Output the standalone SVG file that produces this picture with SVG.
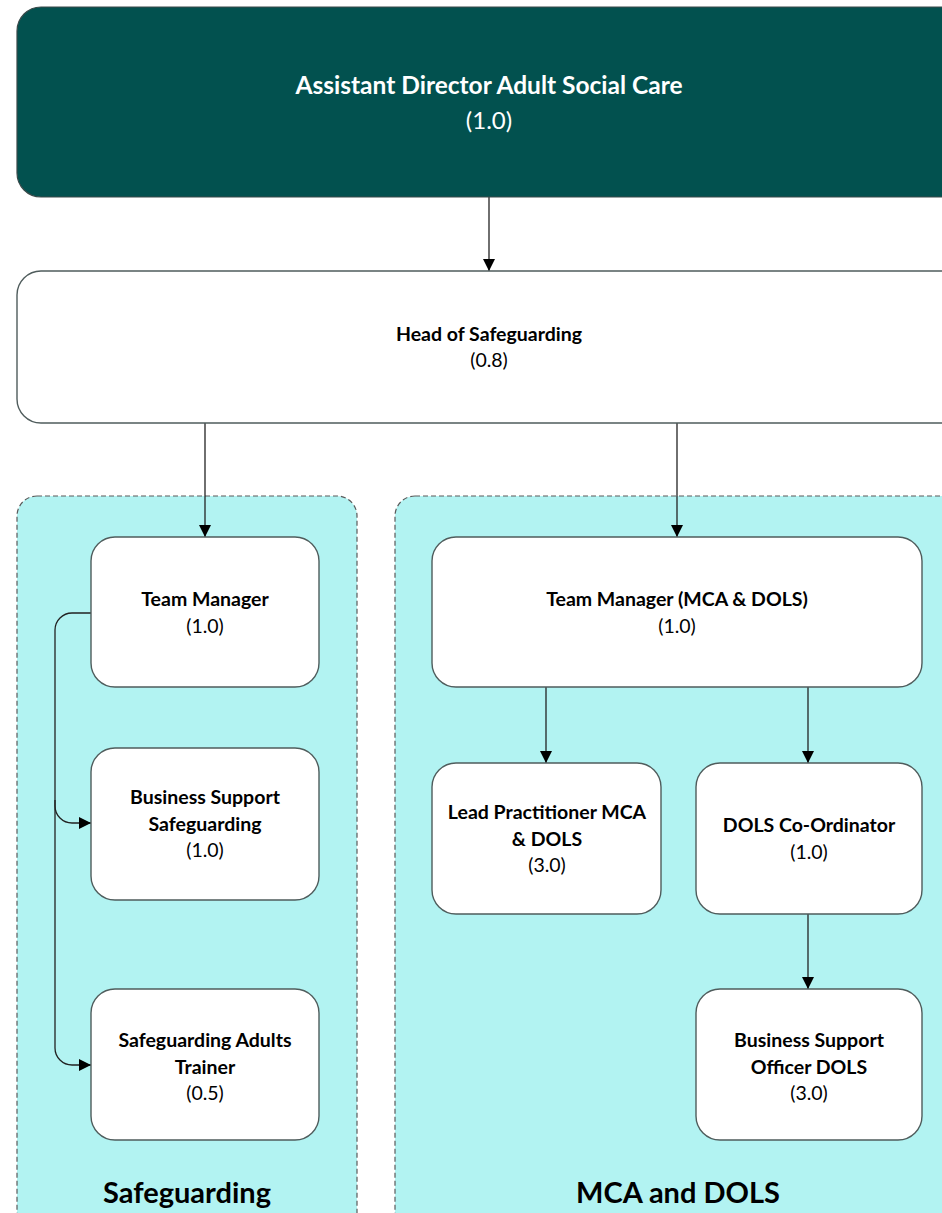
<svg xmlns="http://www.w3.org/2000/svg" width="942" height="1213" viewBox="0 0 942 1213">
<defs>
<marker id="ah" markerWidth="12" markerHeight="12" viewBox="0 0 12 12" refX="12" refY="6" orient="auto" markerUnits="userSpaceOnUse">
<path d="M0,0 L12,6 L0,12 Z" fill="#000"/>
</marker>
<style>
.box{fill:#ffffff;stroke:#4f5c5c;stroke-width:1.4}
.panel{fill:#b2f3f2;stroke:#5a5a5a;stroke-width:1.2;stroke-dasharray:5 3}
.t{font-family:"Lato","Liberation Sans",sans-serif;font-size:19.5px;fill:#000;text-anchor:middle}
.b{font-weight:bold}
.w{fill:#ffffff}
.big{font-size:29px;font-weight:bold}
.con{fill:none;stroke:#222;stroke-width:1.3}
</style>
</defs>
<rect width="942" height="1213" fill="#ffffff"/>
<g id="panel-safeguarding">
<rect class="panel" x="17" y="496" width="340" height="740" rx="20"/>
<text class="t big" x="187" y="1203">Safeguarding</text>
</g>
<g id="panel-mca">
<rect class="panel" x="395" y="496" width="580" height="740" rx="20"/>
<text class="t big" x="678" y="1203">MCA and DOLS</text>
</g>
<g id="connectors">
<path class="con" d="M489,197 V271" marker-end="url(#ah)"/>
<path class="con" d="M205,423 V537" marker-end="url(#ah)"/>
<path class="con" d="M677,423 V537" marker-end="url(#ah)"/>
<path class="con" d="M91,613 H72 A17,17 0 0 0 55,630 V806 A17,17 0 0 0 72,823 H91" marker-end="url(#ah)"/>
<path class="con" d="M55,800 V1048 A17,17 0 0 0 72,1065 H91" marker-end="url(#ah)"/>
<path class="con" d="M546,687 V763" marker-end="url(#ah)"/>
<path class="con" d="M808,687 V763" marker-end="url(#ah)"/>
<path class="con" d="M808,914 V989" marker-end="url(#ah)"/>
</g>
<g id="node-ad">
<rect x="17" y="7" width="960" height="190" rx="24" fill="#02514f" stroke="#3a4a4a" stroke-width="1.2"/>
<text class="t b w" x="489" y="94" style="font-size:24.5px">Assistant Director Adult Social Care</text>
<text class="t w" x="489" y="129" style="font-size:24px">(1.0)</text>
</g>
<g id="node-head">
<rect class="box" x="17" y="271" width="960" height="152" rx="24"/>
<text class="t b" x="489" y="341">Head of Safeguarding</text>
<text class="t" x="489" y="367">(0.8)</text>
</g>
<g id="node-tm">
<rect class="box" x="91" y="537" width="228" height="150" rx="24"/>
<text class="t b" x="205" y="606">Team Manager</text>
<text class="t" x="205" y="633">(1.0)</text>
</g>
<g id="node-bss">
<rect class="box" x="91" y="748" width="228" height="152" rx="24"/>
<text class="t b" x="205" y="804">Business Support</text>
<text class="t b" x="205" y="831">Safeguarding</text>
<text class="t" x="205" y="857">(1.0)</text>
</g>
<g id="node-sat">
<rect class="box" x="91" y="989" width="228" height="151" rx="24"/>
<text class="t b" x="205" y="1047">Safeguarding Adults</text>
<text class="t b" x="205" y="1074">Trainer</text>
<text class="t" x="205" y="1100">(0.5)</text>
</g>
<g id="node-tmmca">
<rect class="box" x="432" y="537" width="490" height="150" rx="24"/>
<text class="t b" x="677" y="606">Team Manager (MCA &amp; DOLS)</text>
<text class="t" x="677" y="633">(1.0)</text>
</g>
<g id="node-lp">
<rect class="box" x="432" y="763" width="229" height="151" rx="24"/>
<text class="t b" x="547" y="819">Lead Practitioner MCA</text>
<text class="t b" x="547" y="846">&amp; DOLS</text>
<text class="t" x="547" y="872">(3.0)</text>
</g>
<g id="node-dc">
<rect class="box" x="696" y="763" width="226" height="151" rx="24"/>
<text class="t b" x="809" y="832">DOLS Co-Ordinator</text>
<text class="t" x="809" y="859">(1.0)</text>
</g>
<g id="node-bso">
<rect class="box" x="696" y="989" width="226" height="151" rx="24"/>
<text class="t b" x="809" y="1047">Business Support</text>
<text class="t b" x="809" y="1074">Officer DOLS</text>
<text class="t" x="809" y="1100">(3.0)</text>
</g>
</svg>
